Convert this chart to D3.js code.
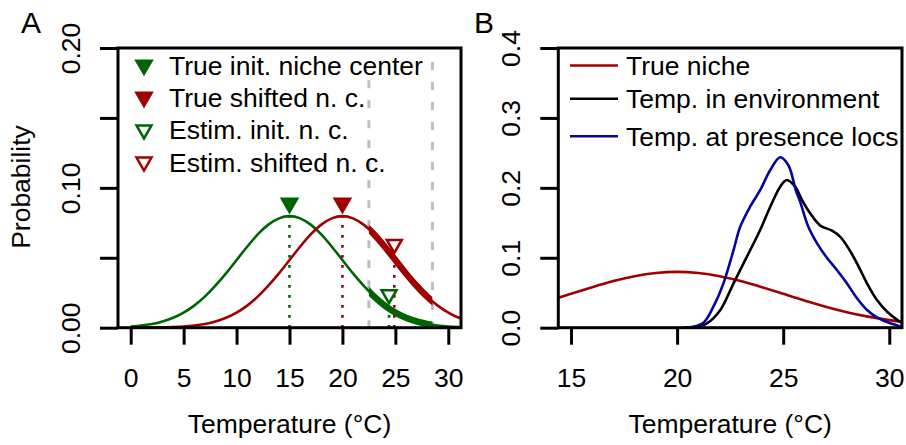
<!DOCTYPE html>
<html>
<head>
<meta charset="utf-8">
<script src="https://cdn.jsdelivr.net/npm/d3@7"></script>
<style>
body { margin: 0; background: #fff; }
svg text { font-family: "Liberation Sans", Arial, Helvetica, sans-serif; fill: #000; }
</style>
</head>
<body>
<svg id="chart" width="906" height="445"></svg>
<script>

// Panel A: niche curves at whole degrees
const tempsA = [0,1,2,3,4,5,6,7,8,9,10,11,12,13,14,15,16,17,18,19,20,21,22,23,24,25,26,27,28,29,30,31,32];
const initNiche = [0.0009,0.0016,0.0027,0.0045,0.0071,0.0108,0.0158,0.0222,0.0300,0.0388,0.0484,0.0579,0.0667,0.0737,0.0782,0.0798,
	0.0782,0.0737,0.0667,0.0579,0.0484,0.0388,0.0300,0.0222,0.0158,0.0108,0.0071,0.0045,0.0027,0.0016,0.0009,0.0005,0.0002];
const shiftNiche = [0.0000,0.0001,0.0001,0.0002,0.0005,0.0009,0.0016,0.0027,0.0045,0.0071,0.0108,0.0158,0.0222,0.0300,0.0388,0.0484,
	0.0579,0.0667,0.0737,0.0782,0.0798,0.0782,0.0737,0.0667,0.0579,0.0484,0.0388,0.0300,0.0222,0.0158,0.0108,0.0071,0.0045];

const trueCenters = [15, 20];
const trueCenterDens = [0.0798, 0.0798];
const estCenters = [24.4, 24.9];
const estCenterDens = [0.0136, 0.0495];
const windowTemps = [22.5, 28.5];   // sampled temperature range (grey dashes)
const windowTops = [0.177, 0.19];

const legendA = ["True init. niche center", "True shifted n. c.", "Estim. init. n. c.", "Estim. shifted n. c."];
const ticksXA = [0, 5, 10, 15, 20, 25, 30];
const ticksYA = [0, 0.05, 0.10, 0.15, 0.20];

// Panel B: temperature densities
const envTemps = [20.4,20.93,21.4,22.03,22.66,23.29,23.92,24.39,24.86,25.17,25.56,25.88,26.27,26.75,27.3,27.69,28.08,28.48,28.95,29.42,29.9,30.6];
const envDens = [0,0.001,0.006,0.025,0.0635,0.1016,0.14,0.173,0.2017,0.2112,0.2017,0.183,0.1636,0.146,0.1388,0.130,0.1135,0.092,0.0635,0.0396,0.0229,0.0063];
const presTemps = [20.2,20.7,21.24,21.71,22.18,22.66,22.97,23.44,23.92,24.39,24.86,25.25,25.6,25.8,26.19,26.59,27.06,27.53,28.0,28.48,28.95,29.42,30.05,30.6];
const presDens = [0,0.001,0.007,0.030,0.063,0.111,0.144,0.173,0.197,0.2255,0.2437,0.232,0.196,0.180,0.144,0.121,0.100,0.0825,0.0635,0.042,0.0253,0.0149,0.0063,0.0014];

const legendB = ["True niche", "Temp. in environment", "Temp. at presence locs"];
const ticksXB = [15, 20, 25, 30];
const ticksYB = [0, 0.1, 0.2, 0.3, 0.4];

//////////////////////////////////////////////////////////////////////

const GREEN = "#006400";
const RED = "#a00000";
const BLUE = "#0505a0";
const FS = 26.5;

const svg = d3.select("#chart");
const plotTop = 48, plotBottom = 327.7;

const xA = d3.scaleLinear().domain([-1.2, 31.2]).range([118, 461]);
const yA = d3.scaleLinear().domain([0, 0.2]).range([plotBottom, plotTop]);
const xB = d3.scaleLinear().domain([14.4, 30.6]).range([558.3, 902]);
const yB = d3.scaleLinear().domain([0, 0.4]).range([plotBottom, plotTop]);

const defs = svg.append("defs");
addClip("clipA", xA.range()[0], xA.range()[1]);
addClip("clipB", xB.range()[0], xB.range()[1]);
addClip("clipWindow", xA(windowTemps[0]), xA(windowTemps[1]));

function addClip(id, x0, x1) {
	defs.append("clipPath").attr("id", id)
		.append("rect")
		.attr("x", x0).attr("y", plotTop)
		.attr("width", x1 - x0).attr("height", plotBottom - plotTop);
}

function triPath(cx, cy, w) {
	const h = w * 0.866;
	return "M" + (cx - w / 2) + "," + (cy - h / 2) +
		"L" + (cx + w / 2) + "," + (cy - h / 2) +
		"L" + cx + "," + (cy + h / 2) + "Z";
}

function drawAxes(x, y, xTicks, yTicks, yFormat) {

	const gx = svg.append("g")
		.attr("transform", "translate(0," + plotBottom + ")")
		.call(d3.axisBottom(x).tickValues(xTicks).tickSize(17).tickFormat(d3.format("d")));
	gx.select(".domain").remove();
	gx.attr("font-family", null).attr("font-size", null);
	gx.selectAll(".tick line").attr("stroke", "#000").attr("stroke-width", 3);
	gx.selectAll(".tick text").attr("font-size", FS).attr("fill", "#000")
		.attr("y", 59.3).attr("dy", 0);

	const gy = svg.append("g")
		.attr("transform", "translate(" + x.range()[0] + ",0)")
		.call(d3.axisLeft(y).tickValues(yTicks).tickSize(18).tickFormat(yFormat));
	gy.select(".domain").remove();
	gy.attr("font-family", null).attr("font-size", null);
	gy.selectAll(".tick line").attr("stroke", "#000").attr("stroke-width", 3);
	gy.selectAll(".tick text").attr("font-size", FS).attr("fill", "#000")
		.attr("transform", "rotate(-90)")
		.attr("text-anchor", "middle")
		.attr("x", 0).attr("y", -38).attr("dy", 0);

	// box
	svg.append("rect")
		.attr("x", x.range()[0]).attr("y", plotTop)
		.attr("width", x.range()[1] - x.range()[0]).attr("height", plotBottom - plotTop)
		.attr("fill", "none").attr("stroke", "#000").attr("stroke-width", 3);

	svg.append("text")
		.attr("x", (x.range()[0] + x.range()[1]) / 2).attr("y", 433)
		.attr("text-anchor", "middle").attr("font-size", FS)
		.text("Temperature (°C)");
}

//////////////////////////////////////////////////////////////////////
// Panel A

function renderPanelA() {

	const line = d3.line()
		.x(function(d, i) { return xA(tempsA[i]); })
		.y(function(d) { return yA(d); })
		.curve(d3.curveNatural);

	// grey dashed window
	svg.append("g").selectAll("line")
		.data(windowTemps)
		.join("line")
		.attr("x1", function(d) { return xA(d); })
		.attr("x2", function(d) { return xA(d); })
		.attr("y1", function(d, i) { return yA(windowTops[i]); })
		.attr("y2", plotBottom)
		.attr("stroke", "#bebebe").attr("stroke-width", 3)
		.attr("stroke-dasharray", "8,12");

	const curves = svg.append("g").attr("clip-path", "url(#clipA)");
	[[initNiche, GREEN], [shiftNiche, RED]].forEach(function(c) {
		curves.append("path").attr("d", line(c[0]))
			.attr("fill", "none").attr("stroke", c[1]).attr("stroke-width", 2.6);
		curves.append("g").attr("clip-path", "url(#clipWindow)")
			.append("path").attr("d", line(c[0]))
			.attr("fill", "none").attr("stroke", c[1]).attr("stroke-width", 6.5);
	});

	// dotted drop lines
	const colors = [GREEN, RED];
	const drops = svg.append("g");
	[[trueCenters, trueCenterDens], [estCenters, estCenterDens]].forEach(function(set) {
		drops.append("g").selectAll("line")
			.data(set[0])
			.join("line")
			.attr("x1", function(d) { return xA(d); })
			.attr("x2", function(d) { return xA(d); })
			.attr("y1", plotBottom)
			.attr("y2", function(d, i) { return yA(set[1][i]); })
			.attr("stroke", function(d, i) { return colors[i]; })
			.attr("stroke-width", 2.6)
			.attr("stroke-dasharray", "2.6,7.4");
	});

	// triangles
	svg.append("g").selectAll("path")
		.data(trueCenters)
		.join("path")
		.attr("d", function(d, i) { return triPath(xA(d), yA(trueCenterDens[i]) - 10.5, 17); })
		.attr("fill", function(d, i) { return colors[i]; })
		.attr("stroke", function(d, i) { return colors[i]; })
		.attr("stroke-width", 1.5);

	svg.append("g").selectAll("path")
		.data(estCenters)
		.join("path")
		.attr("d", function(d, i) { return triPath(xA(d), yA(estCenterDens[i]) - 12, 15); })
		.attr("fill", "#fff")
		.attr("stroke", function(d, i) { return colors[i]; })
		.attr("stroke-width", 2.5);

	drawAxes(xA, yA, ticksXA, ticksYA, function(d) {
		return (Math.round(d * 100) % 10 === 0) ? d3.format(".2f")(d) : "";
	});

	// legend
	const leg = svg.append("g");
	legendA.forEach(function(label, i) {
		const base = 75 + i * 32.2;
		const col = colors[i % 2];
		const filled = i < 2;
		leg.append("path")
			.attr("d", triPath(144, base - 7.5, filled ? 17 : 15))
			.attr("fill", filled ? col : "#fff")
			.attr("stroke", col)
			.attr("stroke-width", filled ? 1.5 : 2.5);
		leg.append("text")
			.attr("x", 169).attr("y", base)
			.attr("font-size", FS)
			.text(label);
	});

	svg.append("text")
		.attr("transform", "translate(30,187) rotate(-90)")
		.attr("text-anchor", "middle").attr("font-size", FS)
		.text("Probability");

	svg.append("text").attr("x", 21).attr("y", 33).attr("font-size", 30).text("A");
}

//////////////////////////////////////////////////////////////////////
// Panel B

function renderPanelB() {

	const curves = svg.append("g").attr("clip-path", "url(#clipB)");

	const nicheLine = d3.line()
		.x(function(d, i) { return xB(tempsA[i]); })
		.y(function(d) { return yB(d); })
		.curve(d3.curveNatural);

	curves.append("path").attr("d", nicheLine(shiftNiche))
		.attr("fill", "none").attr("stroke", RED).attr("stroke-width", 2.6);

	const densLine = function(temps) {
		return d3.line()
			.x(function(d, i) { return xB(temps[i]); })
			.y(function(d) { return yB(d); })
			.curve(d3.curveCatmullRom.alpha(0.5));
	};

	curves.append("path").attr("d", densLine(envTemps)(envDens))
		.attr("fill", "none").attr("stroke", "#000").attr("stroke-width", 2.6);
	curves.append("path").attr("d", densLine(presTemps)(presDens))
		.attr("fill", "none").attr("stroke", BLUE).attr("stroke-width", 2.6);

	drawAxes(xB, yB, ticksXB, ticksYB, d3.format(".1f"));

	const colors = [RED, "#000", BLUE];
	const baselines = [75, 108.3, 145.7];
	const leg = svg.append("g");
	legendB.forEach(function(label, i) {
		leg.append("line")
			.attr("x1", 570).attr("x2", 618)
			.attr("y1", baselines[i] - 9.5).attr("y2", baselines[i] - 9.5)
			.attr("stroke", colors[i]).attr("stroke-width", 2.6);
		leg.append("text")
			.attr("x", 626).attr("y", baselines[i])
			.attr("font-size", FS)
			.text(label);
	});

	svg.append("text").attr("x", 474).attr("y", 33).attr("font-size", 30).text("B");
}

renderPanelA();
renderPanelB();

</script>
</body>
</html>
